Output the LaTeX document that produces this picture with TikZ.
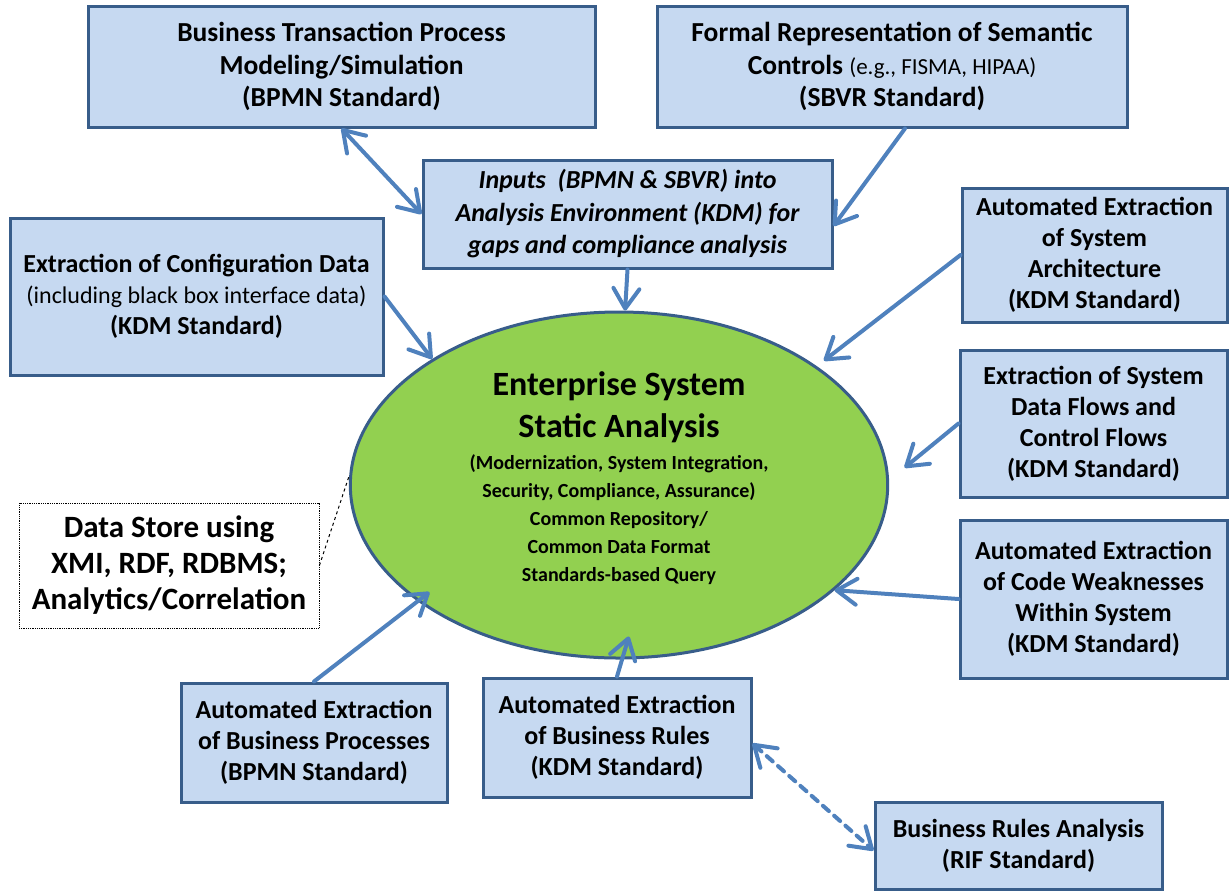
\documentclass[tikz,border=0pt]{standalone}
\usepackage{fontspec}
\setmainfont{Carlito}
\usetikzlibrary{arrows.meta}
\usetikzlibrary{shapes.geometric}

\definecolor{boxfill}{HTML}{C6D9F1}
\definecolor{boxline}{HTML}{385D8A}
\definecolor{linkblue}{HTML}{4F81BD}
\definecolor{ellfill}{HTML}{92D050}

\tikzset{
  box/.style={draw=boxline,fill=boxfill,line width=3pt,align=center,inner sep=0pt,
    font=\fontsize{26}{31}\selectfont\bfseries},
  topbox/.style={box,font=\fontsize{27.5}{32.5}\selectfont\bfseries},
  core/.style={ellipse,draw=boxline,fill=ellfill,line width=3pt,align=flush center,inner sep=0pt,
    text width=380pt,font=\bfseries},
  store/.style={draw=black,densely dotted,line width=0.8pt,align=center,inner sep=0pt,
    font=\fontsize{31}{36}\selectfont\bfseries},
  link/.style={draw=linkblue,line width=4pt,line cap=round,
    -{Straight Barb[length=20pt,width=26pt,round]}},
  twolink/.style={link,{Straight Barb[length=20pt,width=26pt,round]}-{Straight Barb[length=20pt,width=26pt,round]}},
}

\begin{document}
\begin{tikzpicture}[x=1pt,y=-1pt]
  % Boundary
  \path[use as bounding box] (0,0) rectangle (1230,892);
  % Standards on top
  \node[topbox,minimum width=507pt,minimum height=121pt] (bpmn) at (341.5,66.5)
    {Business Transaction Process\\Modeling/Simulation\\(BPMN Standard)};
  \node[topbox,minimum width=470pt,minimum height=121pt] (sbvr) at (892,66.5)
    {Formal Representation of Semantic\\Controls {\mdseries\fontsize{23}{28}\selectfont (e.g., FISMA, HIPAA)}\\(SBVR Standard)};
  \node[box,font=\fontsize{26}{32.5}\selectfont\bfseries\itshape,minimum width=409pt,minimum height=108pt] (inp) at (627.5,214)
    {Inputs~ (BPMN \& SBVR) into\\Analysis Environment (KDM) for\\gaps and compliance analysis};
  % Left side
  \node[box,minimum width=373pt,minimum height=157pt] (cfg) at (196.5,296.5)
    {Extraction of Configuration Data\\{\mdseries\fontsize{24}{28}\selectfont (including black box interface data)}\\(KDM Standard)};
  \node[store,minimum width=300pt,minimum height=125pt] (ds) at (169,565.5)
    {Data Store using\\XMI, RDF, RDBMS;\\Analytics/Correlation};
  % Right side
  \node[box,minimum width=265pt,minimum height=134pt] (arch) at (1094.5,255)
    {Automated Extraction\\of System\\Architecture\\(KDM Standard)};
  \node[box,minimum width=267pt,minimum height=147pt] (flow) at (1093.5,423.5)
    {Extraction of System\\Data Flows and\\Control Flows\\(KDM Standard)};
  \node[box,minimum width=267pt,minimum height=158pt] (weak) at (1093.5,599)
    {Automated Extraction\\of Code Weaknesses\\Within System\\(KDM Standard)};
  % Bottom
  \node[box,minimum width=266pt,minimum height=119pt] (bp) at (314,742.5)
    {Automated Extraction\\of Business Processes\\(BPMN Standard)};
  \node[box,minimum width=268pt,minimum height=119pt] (br) at (617,737.5)
    {Automated Extraction\\of Business Rules\\(KDM Standard)};
  \node[box,minimum width=287pt,minimum height=87pt] (rif) at (1018.5,845.5)
    {Business Rules Analysis\\(RIF Standard)};
  % Core
  \node[core,minimum width=532pt,minimum height=346pt] (es) at (619,485)
    {{\fontsize{34}{42}\selectfont Enterprise System\\Static Analysis\par}
     \vspace{4pt}
     {\fontsize{20}{28}\selectfont (Modernization, System Integration,\\Security, Compliance, Assurance)\\
     Common Repository/\\Common Data Format\\Standards-based Query\par}
     \nointerlineskip\vbox to 14pt{}};
  % Links
  \draw[twolink] (bpmn.south) -- (inp.west);
  \draw[link] ([xshift=13pt]sbvr.south) -- ([yshift=-12pt]inp.east);
  \draw[link] (inp.south) -- (es.88);
  \draw[link] (cfg.east) -- (es.146);
  \draw[link,shorten >=9pt] (arch.west) -- (es.31);
  \draw[link,shorten >=20pt] (flow.west) -- (es.1);
  \draw[link] (weak.west) -- (es.-26);
  \draw[link,shorten >=-15pt] (bp.north) -- (es.-150);
  \draw[link,shorten >=-24pt] (br.north) -- (es.-89);
  \draw[twolink,dash pattern=on 8pt off 7pt] ([yshift=-6pt]br.east) -- ([yshift=-5pt]rif.west);
  \draw[dashed,line width=1pt] (ds.east) -- (es.178);
\end{tikzpicture}
\end{document}
